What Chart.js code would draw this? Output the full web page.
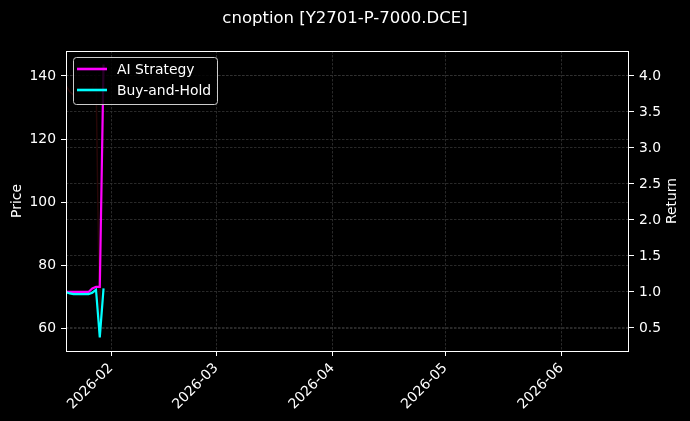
<!DOCTYPE html>
<html><head><meta charset="utf-8">
<script src="https://cdn.jsdelivr.net/npm/chart.js@4.4.1/dist/chart.umd.min.js"></script>
<style>html,body{margin:0;padding:0;background:#000;}#wrap{width:690px;height:421px;position:relative;}</style>
</head><body><div id="wrap"><canvas id="c" width="690" height="421"></canvas></div>
<script>
const chartTitle = 'cnoption [Y2701-P-7000.DCE]';
const dates = ['2026-01-20','2026-01-21','2026-01-22','2026-01-23','2026-01-26','2026-01-27','2026-01-28','2026-01-29','2026-01-30'];
const aiStrategy = [1.00,1.00,1.00,1.00,1.00,1.05,1.07,1.07,4.16];
const buyHold = [1.00,0.98,0.97,0.97,0.97,0.99,1.03,0.37,1.05];
const price = [137,135,134,134,134,136,140,57.3,143.6];
const xTickDates = ['2026-02-01','2026-03-01','2026-04-01','2026-05-01','2026-06-01'];
const xTickLabels = ['2026-02','2026-03','2026-04','2026-05','2026-06'];
const priceTicks = [60,80,100,120,140];
const returnTicks = [0.5,1.0,1.5,2.0,2.5,3.0,3.5,4.0];
const xRange = ['2026-01-20','2026-06-19'];
const priceRange = [53.0,147.9];
const returnRange = [0.18,4.347];

const FONT = 'DejaVu Sans';
const toMs = s => Date.parse(s);
const pts = arr => dates.map((d,i)=>({x:toMs(d), y:arr[i]}));

const gridCommon = {color:'#333333', lineWidth:0.8, tickColor:'#ffffff', tickLength:5, tickWidth:1};
const tickFont = {family:FONT, size:13.9};
const gridDash = {display:false, dash:[2.5,1.5]};

const overlay = {
  id:'overlay',
  afterDraw(chart){
    const c = chart.ctx, a = chart.chartArea;
    c.save();
    c.strokeStyle = '#ffffff'; c.lineWidth = 1;
    c.strokeRect(Math.round(a.left)+0.5, Math.round(a.top)+0.5, Math.round(a.right-a.left)-1, Math.round(a.bottom-a.top));
    c.fillStyle = '#ffffff';
    c.font = '16.5px "'+FONT+'"';
    c.textAlign = 'center'; c.textBaseline = 'middle';
    c.fillText(chartTitle, 345, 19);
    c.font = '13.9px "'+FONT+'"';
    c.save(); c.translate(17, (a.top+a.bottom)/2); c.rotate(-Math.PI/2); c.fillText('Price',0,0); c.restore();
    c.save(); c.translate(672, (a.top+a.bottom)/2); c.rotate(-Math.PI/2); c.fillText('Return',0,0); c.restore();
    const lx = 73.5, ly = 57.5, lw = 144, lh = 47, r = 3;
    c.beginPath();
    c.moveTo(lx+r,ly); c.lineTo(lx+lw-r,ly); c.arcTo(lx+lw,ly,lx+lw,ly+r,r);
    c.lineTo(lx+lw,ly+lh-r); c.arcTo(lx+lw,ly+lh,lx+lw-r,ly+lh,r);
    c.lineTo(lx+r,ly+lh); c.arcTo(lx,ly+lh,lx,ly+lh-r,r);
    c.lineTo(lx,ly+r); c.arcTo(lx,ly,lx+r,ly,r); c.closePath();
    c.fillStyle = 'rgba(0,0,0,0.85)'; c.fill();
    c.strokeStyle = '#cccccc'; c.lineWidth = 1; c.stroke();
    const items = chart.data.datasets.filter(d=>d.showInLegend);
    items.forEach((d,i)=>{
      const y = 69 + i*21;
      c.strokeStyle = d.borderColor; c.lineWidth = 2.6;
      c.beginPath(); c.moveTo(77,y); c.lineTo(107,y); c.stroke();
      c.fillStyle = '#ffffff'; c.textAlign = 'left'; c.textBaseline = 'middle';
      c.fillText(d.label, 117, y+1);
    });
    c.restore();
  }
};

new Chart(document.getElementById('c'), {
  type:'line',
  data:{datasets:[
    {label:'Price', data:pts(price), yAxisID:'y', borderColor:'#260707', borderWidth:1.5, pointRadius:0, showInLegend:false, order:3},
    {label:'AI Strategy', data:pts(aiStrategy), yAxisID:'y1', borderColor:'#ff00ff', borderWidth:2.2, pointRadius:0, showInLegend:true, order:2},
    {label:'Buy-and-Hold', data:pts(buyHold), yAxisID:'y1', borderColor:'#00ffff', borderWidth:2.2, pointRadius:0, showInLegend:true, order:1}
  ]},
  options:{
    responsive:false, animation:false, devicePixelRatio:1,
    layout:{padding:{top:51,left:0,right:0,bottom:0}},
    plugins:{legend:{display:false}, title:{display:false}, tooltip:{enabled:false}},
    scales:{
      x:{type:'linear', position:'bottom', min:toMs(xRange[0]), max:toMs(xRange[1]),
        afterBuildTicks:s=>{s.ticks = xTickDates.map(d=>({value:toMs(d)}));},
        afterFit:s=>{s.height = 70;},
        ticks:{color:'#ffffff', font:tickFont, minRotation:45, maxRotation:45, autoSkip:false, padding:4,
          callback:(v,i)=>xTickLabels[i]},
        grid:gridCommon, border:gridDash},
      y:{type:'linear', position:'left', min:priceRange[0], max:priceRange[1],
        afterBuildTicks:s=>{s.ticks = priceTicks.map(v=>({value:v}));},
        afterFit:s=>{s.width = 66;},
        ticks:{color:'#ffffff', font:tickFont, padding:5, callback:v=>String(v)},
        grid:gridCommon, border:gridDash},
      y1:{type:'linear', position:'right', min:returnRange[0], max:returnRange[1],
        afterBuildTicks:s=>{s.ticks = returnTicks.map(v=>({value:v}));},
        afterFit:s=>{s.width = 61;},
        ticks:{color:'#ffffff', font:tickFont, padding:5, callback:v=>v.toFixed(1)},
        grid:gridCommon, border:gridDash}
    }
  },
  plugins:[overlay]
});
</script></body></html>
